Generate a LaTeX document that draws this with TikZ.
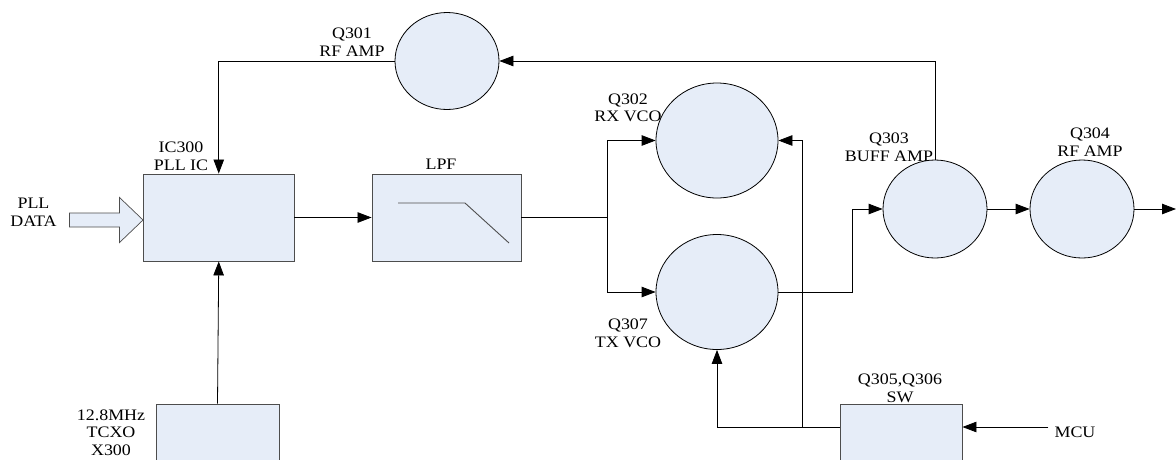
\documentclass[tikz,border=0pt]{standalone}
\usepackage{fontspec}
\setmainfont{Liberation Serif}[FakeStretch=1.12]
\usetikzlibrary{shapes.geometric,arrows.meta}
\definecolor{blockfill}{HTML}{E6EDF8}
\definecolor{blockline}{HTML}{4D4D4D}

\begin{document}
\begin{tikzpicture}[x=1pt,y=-1pt,
    block/.style={draw=blockline,fill=blockfill,line width=0.9pt,inner sep=0pt},
    amp/.style={ellipse,draw=black,fill=blockfill,line width=0.8pt,inner sep=0pt},
    lbl/.style={align=center,inner sep=0pt,font=\fontsize{16}{17.5}\selectfont},
    sig/.style={line width=0.8pt,-{Triangle[length=14pt,width=10.5pt]}},
    wire/.style={line width=0.8pt}]
      \useasboundingbox (0,0) rectangle (1176,459);
      \clip (0,0) rectangle (1176,459);

      % Blocks
      \node[block,minimum width=150.5pt,minimum height=87pt] (pll) at (218.75,217.5) {};
      \node[block,minimum width=149pt,minimum height=87pt] (lpf) at (446.5,217.5) {};
      \node[block,minimum width=123pt,minimum height=66pt] (tcxo) at (217.5,437) {};
      \node[block,minimum width=122pt,minimum height=66pt] (sw) at (901,437) {};

      % Amplifiers and oscillators
      \node[amp,minimum width=104pt,minimum height=97pt] (q301) at (447,61) {};
      \node[amp,minimum width=122pt,minimum height=115pt] (rxvco) at (717,140.5) {};
      \node[amp,minimum width=122pt,minimum height=115pt] (txvco) at (717,292) {};
      \node[amp,minimum width=104pt,minimum height=98pt] (q303) at (935,209) {};
      \node[amp,minimum width=104pt,minimum height=98pt] (q304) at (1082,209) {};

      % Labels
      \node[lbl] (q301lbl) at (352,42) {Q301\\RF AMP};
      \node[lbl] (plllbl) at (181,156.5) {IC300\\PLL IC};
      \node[lbl] (lpflbl) at (441,164) {LPF};
      \node[lbl] (rxlbl) at (628,108) {Q302\\RX VCO};
      \node[lbl] (q303lbl) at (889,147.5) {Q303\\BUFF AMP};
      \node[lbl] (q304lbl) at (1090,142) {Q304\\RF AMP};
      \node[lbl] (txlbl) at (628,333.5) {Q307\\TX VCO};
      \node[lbl] (swlbl) at (900,388.5) {Q305,Q306\\SW};
      \node[lbl] (tcxolbl) at (111,432.5) {12.8MHz\\TCXO\\X300};
      \node[lbl] (datalbl) at (33.5,212.5) {PLL\\DATA};
      \node[lbl] (mcu) at (1075,432.5) {MCU};

      % Filter curve
      \draw[line width=0.9pt,blockline] (398,203) -- (465,203) -- (509,243);

      % Data input
      \coordinate (datatip) at ([yshift=-2.5pt]pll.west);
      \draw[block,line width=0.7pt] (datatip) -- ++(-23.5,-22.5) -- ++(0,15.5) -- ++(-50,0)
        -- ++(0,14) -- ++(50,0) -- ++(0,15.5) -- cycle;

      % Signal path
      \coordinate (split) at (607,217.5);
      \coordinate (tap) at (852,209);
      \coordinate (tee) at (802,427);
      \coordinate (out) at (1176,209);

      \draw[sig] (pll) -- (lpf);
      \draw[wire] (lpf.east) -- (split);
      \draw[sig] (split) |- (rxvco.west);
      \draw[sig] (split) |- (txvco.west);
      \draw[sig] (txvco.east) -| (tap) -- (q303.west);
      \draw[sig] (q303) -- (q304);
      \draw[sig] (q304) -- (out);
      \draw[sig] (q303.north) |- (q301.east);
      \draw[sig] (q301.west) -| (pll.north);
      \draw[sig] (tcxo.north) -- (pll.south);

      % Switch
      \draw[sig] (sw.west |- tee) -| (txvco.south);
      \draw[sig] (tee) |- (rxvco.east);
      \draw[sig] (mcu.west |- tee) ++(-6,0) -- (sw.east |- tee);
    \end{tikzpicture}
\end{document}
